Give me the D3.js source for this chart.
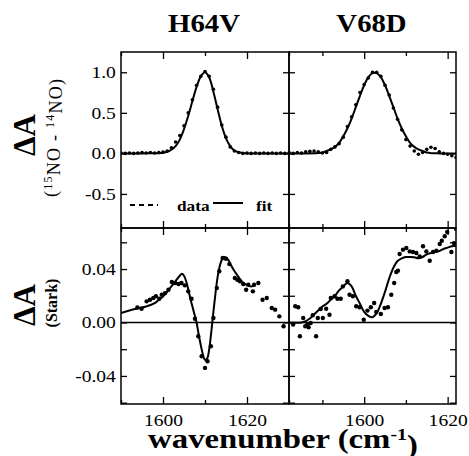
<html>
<head>
  <style>
    body { margin: 0; background: #fff; }
    svg text { font-family: "Liberation Serif", "Times New Roman", serif; fill: #000; }
    svg .frame { fill: none; stroke: #000; stroke-width: 1.5px; }
    svg .fit { fill: none; stroke: #000; stroke-width: 2px; stroke-linejoin: round; }
    svg .zero { stroke: #000; stroke-width: 1.5px; }
    svg .tick line { stroke: #000; stroke-width: 1.3px; }
  </style>
</head>
<body>
  <div id="chart"></div>
  <script src="https://cdn.jsdelivr.net/npm/d3@7"></script>
  <script>
    // panel titles and axes
    var titles = ["H64V", "V68D"];
    var xDomains = [[1590, 1630], [1582, 1622]];
    var xMajor = [1600, 1620];
    var xMinor = [1590, 1610, 1630];

    var irDomain = [-0.92, 1.25];
    var irTicks = [-0.5, 0.0, 0.5, 1.0];
    var starkDomain = [-0.061, 0.0707];
    var starkTicks = [-0.06, -0.04, -0.02, 0.00, 0.02, 0.04, 0.06];
    var starkLabels = [-0.04, 0.00, 0.04];

    // H64V  15NO - 14NO difference spectrum
    var h64vIrData = [[1590,0.005],[1591,0.0],[1592,0.005],[1593,0.0],[1594,0.005],[1595,0.01],[1596,0.005],
      [1597,0.01],[1598,0.005],[1599,0.01],[1600,0.015],[1601,0.03],[1602,0.07],[1603,0.14],[1604,0.22],
      [1605,0.34],[1606,0.50],[1607,0.66],[1608,0.84],[1609,0.95],[1610,1.01],[1611,0.95],[1612,0.79],
      [1613,0.57],[1614,0.35],[1615,0.20],[1616,0.08],[1617,0.03],[1618,0.01],[1619,0.0],[1620,0.005],
      [1621,0.0],[1622,0.005],[1623,0.0],[1624,0.005],[1625,0.0],[1626,0.005],[1627,0.0],[1628,0.005],
      [1629,0.0],[1630,0.005]];
    var h64vIrFit = [[1590,0],[1595,0],[1599,0.002],[1600,0.007],[1601,0.02],[1602,0.045],[1603,0.09],
      [1604,0.17],[1605,0.30],[1606,0.46],[1607,0.645],[1608,0.82],[1609,0.95],[1610,1.0],[1611,0.935],
      [1612,0.76],[1613,0.545],[1614,0.34],[1615,0.185],[1616,0.09],[1617,0.035],[1618,0.013],
      [1619,0.004],[1620,0],[1625,0],[1630,0]];

    // V68D  15NO - 14NO difference spectrum
    var v68dIrData = [[1582,0.01],[1583,0.0],[1584,0.01],[1585,0.005],[1586,0.02],[1587,0.025],[1588,0.03],
      [1589,0.02],[1590,0.005],[1591,0.01],[1592,0.05],[1593,0.08],[1594,0.12],[1595,0.20],[1596,0.33],
      [1597,0.45],[1598,0.60],[1599,0.75],[1600,0.85],[1601,0.93],[1602,1.0],[1603,1.0],[1604,0.95],
      [1605,0.84],[1606,0.72],[1607,0.56],[1608,0.42],[1609,0.29],[1610,0.17],[1611,0.09],[1612,0.03],
      [1613,-0.01],[1614,0.01],[1615,0.05],[1616,0.075],[1617,0.06],[1618,0.02],[1619,0.0],[1620,-0.01],
      [1621,-0.03],[1622,-0.05]];
    var v68dIrFit = [[1582,0],[1586,0],[1589,0.005],[1590,0.01],[1591,0.03],[1592,0.05],[1593,0.08],
      [1594,0.13],[1595,0.21],[1596,0.31],[1597,0.43],[1598,0.57],[1599,0.71],[1600,0.84],[1601,0.94],
      [1602,0.99],[1603,0.99],[1604,0.94],[1605,0.84],[1606,0.71],[1607,0.57],[1608,0.43],[1609,0.31],
      [1610,0.21],[1611,0.13],[1612,0.08],[1613,0.05],[1614,0.03],[1615,0.01],[1616,0.003],[1618,0],[1622,0]];

    // H64V  Stark spectrum
    var h64vStarkData = [[1593.9,0.0113],[1594.9,0.0103],[1596.1,0.0158],[1596.9,0.0170],[1597.7,0.0183],
      [1598.3,0.0196],[1599.1,0.0178],[1599.7,0.0208],[1600.5,0.0220],[1601.3,0.0245],[1602.1,0.0303],
      [1602.9,0.0295],[1603.7,0.0288],[1604.4,0.0295],[1605.2,0.0278],[1606.0,0.0233],[1606.8,0.0178],
      [1607.6,0.0028],[1608.4,-0.0103],[1609.2,-0.0253],[1610.0,-0.0340],[1610.6,-0.0290],[1611.4,-0.0178],
      [1612.0,0.0034],[1612.8,0.0258],[1613.4,0.0383],[1614.2,0.0482],[1615.0,0.0477],[1615.8,0.0437],
      [1617.1,0.0333],[1617.7,0.0320],[1618.3,0.0308],[1619.1,0.0288],[1619.8,0.0245],[1620.3,0.0283],
      [1621.4,0.0233],[1621.7,0.0283],[1622.7,0.0295],[1623.7,0.0170],[1624.7,0.0183],[1625.9,0.0108],
      [1626.7,0.0096],[1627.7,0.0046],[1628.7,-0.0028]];
    var h64vStarkFit = [[1590,0.007],[1592,0.009],[1594,0.0105],[1596,0.012],[1598,0.0145],[1599,0.017],
      [1600,0.0195],[1601,0.023],[1602,0.027],[1603,0.031],[1604,0.035],[1604.5,0.0365],[1605,0.035],
      [1605.5,0.031],[1606,0.025],[1606.5,0.018],[1607,0.012],[1607.5,0.006],[1608,0.0],[1608.5,-0.009],
      [1609,-0.017],[1609.5,-0.024],[1610,-0.028],[1610.5,-0.027],[1611,-0.02],[1611.5,-0.007],
      [1612,0.008],[1612.5,0.022],[1613,0.034],[1613.5,0.042],[1614,0.047],[1614.5,0.049],[1615,0.0485],
      [1615.5,0.047],[1616,0.044],[1617,0.0385],[1618,0.034],[1619,0.030],[1620,0.028],[1621,0.027],
      [1622,0.028]];

    // V68D  Stark spectrum
    var v68dStarkData = [[1583.0,-0.0016],[1583.5,0.0121],[1584.2,0.0114],[1584.6,-0.0103],[1585.4,0.0034],
      [1585.9,-0.0028],[1586.4,-0.0016],[1586.7,-0.0036],[1587.2,-0.0004],[1587.7,0.0054],[1588.5,-0.0103],
      [1588.9,0.0034],[1589.6,0.0101],[1590.1,0.0034],[1590.9,0.0103],[1591.7,0.0058],[1592.0,0.0183],
      [1592.9,0.0196],[1593.6,0.0178],[1594.4,0.0178],[1594.9,0.0270],[1596.0,0.0308],[1596.5,0.0208],
      [1597.3,0.0196],[1598.1,0.0121],[1598.9,0.0114],[1599.9,0.0021],[1600.8,0.0089],[1601.6,0.0114],
      [1602.4,0.0146],[1602.9,0.0079],[1604.0,0.0064],[1604.9,0.0108],[1605.7,0.0114],[1606.5,0.0208],
      [1607.2,0.0295],[1607.7,0.0378],[1608.1,0.0388],[1608.5,0.0512],[1609.3,0.0545],[1610.1,0.0557],
      [1610.9,0.0532],[1611.7,0.0527],[1612.5,0.0520],[1613.3,0.0495],[1614.1,0.0570],[1614.9,0.0532],
      [1615.7,0.0462],[1616.5,0.0527],[1617.3,0.0537],[1618.1,0.0587],[1618.6,0.0612],[1619.3,0.0645],
      [1619.9,0.0677],[1620.9,0.0527],[1621.5,0.0594],[1622.0,0.0701]];
    var v68dStarkFit = [[1582,0.0],[1585,0.0],[1586,0.001],[1587,0.003],[1588,0.006],[1589,0.009],
      [1590,0.012],[1591,0.014],[1592,0.017],[1593,0.020],[1594,0.024],[1595,0.027],[1596,0.0295],
      [1597,0.027],[1598,0.020],[1599,0.014],[1600,0.008],[1601,0.005],[1602,0.004],[1603,0.007],
      [1604,0.014],[1605,0.023],[1606,0.033],[1607,0.041],[1608,0.046],[1609,0.048],[1610,0.049],
      [1611,0.049],[1612,0.0488],[1613,0.048],[1614,0.049],[1615,0.051],[1616,0.052],[1617,0.053],
      [1618,0.0535],[1619,0.055],[1620,0.056],[1621,0.057],[1622,0.0575]];

    var width = 469, height = 456;
    var colX = [[121, 289], [289, 456]];   // pixel extent of each column
    var rowY = [[52, 228], [228, 404]];    // pixel extent of each row
    var squash = "scale(1.15,1)";          // the scanned figure is a little wide

    var svg = d3.select("#chart").append("svg")
        .attr("width", width)
        .attr("height", height);

    var clipN = 0;
    function panel(col, row, yDom, yTicks, yLabels, yFmt, data, fit, r) {
      var x = d3.scaleLinear().domain(xDomains[col]).range(colX[col]);
      var y = d3.scaleLinear().domain(yDom).range([rowY[row][1], rowY[row][0]]);
      var x0 = colX[col][0], x1 = colX[col][1], y0 = rowY[row][0], y1 = rowY[row][1];

      var id = "clip" + (clipN++);
      svg.append("clipPath").attr("id", id)
        .append("rect").attr("x", x0).attr("y", y0).attr("width", x1 - x0).attr("height", y1 - y0);

      var g = svg.append("g");
      var plot = g.append("g").attr("clip-path", "url(#" + id + ")");

      if (row == 1) {
        plot.append("line").classed("zero", true)
          .attr("x1", x0).attr("x2", x1).attr("y1", y(0)).attr("y2", y(0));
      }

      plot.selectAll("circle").data(data).enter().append("circle")
        .attr("cx", function (d) { return x(d[0]); })
        .attr("cy", function (d) { return y(d[1]); })
        .attr("r", r);

      var line = d3.line()
        .x(function (d) { return x(d[0]); })
        .y(function (d) { return y(d[1]); })
        .curve(d3.curveCatmullRom);
      plot.append("path").classed("fit", true).attr("d", line(fit));

      // ticks on all four sides, pointing inward
      var xFmt = row == 1 ? d3.format("d") : "";
      g.append("g").attr("transform", "translate(0," + y1 + ")")
        .call(d3.axisBottom(x).tickValues(xMajor).tickSize(-7).tickPadding(10).tickFormat(xFmt));
      g.append("g").attr("transform", "translate(0," + y1 + ")")
        .call(d3.axisBottom(x).tickValues(xMinor).tickSize(-4).tickFormat(""));
      g.append("g").attr("transform", "translate(0," + y0 + ")")
        .call(d3.axisTop(x).tickValues(xMajor).tickSize(-7).tickFormat(""));
      g.append("g").attr("transform", "translate(0," + y0 + ")")
        .call(d3.axisTop(x).tickValues(xMinor).tickSize(-4).tickFormat(""));

      var yl = col == 0 ? function (d) { return yLabels.indexOf(d) >= 0 ? yFmt(d) : ""; } : "";
      g.append("g").attr("transform", "translate(" + x0 + ",0)")
        .call(d3.axisLeft(y).tickValues(yTicks).tickSize(-6).tickPadding(4.5).tickFormat(yl));
      g.append("g").attr("transform", "translate(" + x1 + ",0)")
        .call(d3.axisRight(y).tickValues(yTicks).tickSize(-6).tickFormat(""));

      g.selectAll(".domain").remove();
      g.selectAll(".tick text")
        .style("font-size", "17px")
        .attr("transform", squash);

      g.append("rect").classed("frame", true)
        .attr("x", x0).attr("y", y0).attr("width", x1 - x0).attr("height", y1 - y0);

      return { x: x, y: y };
    }

    var irFmt = function (d) { return d.toFixed(1); };
    var starkFmt = function (d) { return d.toFixed(2); };

    panel(0, 0, irDomain, irTicks, irTicks, irFmt, h64vIrData, h64vIrFit, 1.8);
    panel(1, 0, irDomain, irTicks, irTicks, irFmt, v68dIrData, v68dIrFit, 1.8);
    panel(0, 1, starkDomain, starkTicks, starkLabels, starkFmt, h64vStarkData, h64vStarkFit, 2.2);
    panel(1, 1, starkDomain, starkTicks, starkLabels, starkFmt, v68dStarkData, v68dStarkFit, 2.2);

    // column titles
    svg.selectAll("text.title").data(titles).enter().append("text")
      .attr("transform", function (d, i) {
        return "translate(" + ((colX[i][0] + colX[i][1]) / 2 - 1) + ",32) " + squash;
      })
      .attr("text-anchor", "middle")
      .style("font-size", "25px")
      .style("font-weight", "bold")
      .text(function (d) { return d; });

    // y axis labels
    function yTitle(cy, subY) {
      svg.append("text")
        .attr("transform", "translate(35," + cy + ") rotate(-90)")
        .attr("text-anchor", "middle")
        .style("font-size", "31px")
        .style("font-weight", "bold")
        .text("ΔA");
      return svg.append("text")
        .attr("transform", "translate(57," + subY + ") rotate(-90)")
        .attr("text-anchor", "middle");
    }

    var sub1 = yTitle(135, 138).style("font-size", "18px")
      .attr("textLength", 118).attr("lengthAdjust", "spacing");
    sub1.append("tspan").text("(");
    sub1.append("tspan").attr("dy", "-0.45em").style("font-size", "12px").text("15");
    sub1.append("tspan").attr("dy", "0.45em").text("NO - ");
    sub1.append("tspan").attr("dy", "-0.45em").style("font-size", "12px").text("14");
    sub1.append("tspan").attr("dy", "0.45em").text("NO)");

    var sub2 = yTitle(305, 303).style("font-size", "16px").style("font-weight", "bold");
    sub2.text("(Stark)");

    // x axis label
    var xl = svg.append("text")
      .attr("transform", "translate(283,448) scale(1.17,1)")
      .attr("text-anchor", "middle")
      .style("font-size", "28px")
      .style("font-weight", "bold");
    xl.append("tspan").text("wavenumber (cm");
    xl.append("tspan").attr("dy", "-0.5em").style("font-size", "17px").text("-1");
    xl.append("tspan").attr("dy", "0.5em").text(")");

    // legend
    var leg = svg.append("g");
    leg.append("line")
      .attr("x1", 130).attr("x2", 158).attr("y1", 205).attr("y2", 205)
      .attr("stroke", "#000").attr("stroke-width", 2).attr("stroke-dasharray", "5,4");
    leg.append("text")
      .attr("transform", "translate(177,211) " + squash)
      .style("font-size", "15px").style("font-weight", "bold")
      .text("data");
    leg.append("line")
      .attr("x1", 213).attr("x2", 243).attr("y1", 203).attr("y2", 203)
      .attr("stroke", "#000").attr("stroke-width", 2);
    leg.append("text")
      .attr("transform", "translate(256,211) " + squash)
      .style("font-size", "15px").style("font-weight", "bold")
      .text("fit");
  </script>
</body>
</html>
